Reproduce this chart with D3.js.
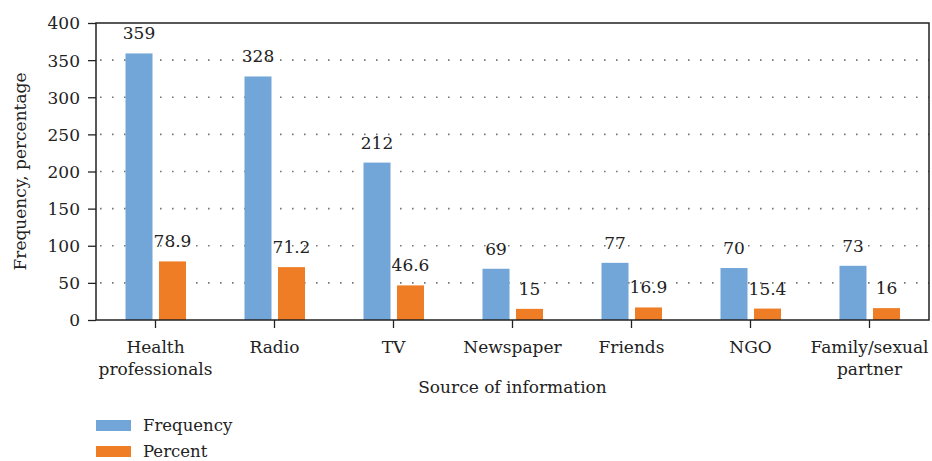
<!DOCTYPE html>
<html><head><meta charset="utf-8">
<script src="https://cdn.jsdelivr.net/npm/d3@7"></script>
<style>
body{margin:0;background:#fff;}
</style></head>
<body><svg id="c" width="932" height="461"></svg>
<script>
const FONT = "DejaVu Serif";
const categories = [["Health","professionals"],["Radio"],["TV"],["Newspaper"],["Friends"],["NGO"],["Family/sexual","partner"]];
const frequency = [359,328,212,69,77,70,73];
const percent = [78.9,71.2,46.6,15,16.9,15.4,16];
const percentLabels = ["78.9","71.2","46.6","15","16.9","15.4","16"];
const yTicks = [0,50,100,150,200,250,300,350,400];
const seriesNames = ["Frequency","Percent"];
const colors = ["#73a6d8","#ee7d25"];

const svg = d3.select("#c");
const L=96, R=929, T=23, B=320;
const x = d3.scaleBand().domain(d3.range(categories.length)).range([L,R]);
const y = d3.scaleLinear().domain([0,400]).range([B,T]);

// gridlines
svg.append("g").selectAll("line").data(yTicks.filter(d=>d>0&&d<400)).join("line")
  .attr("x1",L+4).attr("x2",R).attr("y1",d=>y(d)).attr("y2",d=>y(d))
  .attr("stroke","#777").attr("stroke-width",1.6).attr("stroke-dasharray","1.6,10.4");

// bars
const bw = 27;
svg.append("g").selectAll("rect").data(frequency).join("rect")
  .attr("x",(d,i)=>x(i)+x.bandwidth()/2-3-bw).attr("width",bw)
  .attr("y",d=>y(d)).attr("height",d=>B-y(d)).attr("fill",colors[0]);
svg.append("g").selectAll("rect").data(percent).join("rect")
  .attr("x",(d,i)=>x(i)+x.bandwidth()/2+3.5).attr("width",bw)
  .attr("y",d=>y(d)).attr("height",d=>B-y(d)).attr("fill",colors[1]);

function txt(sel){ return sel.attr("font-family",FONT).attr("fill","#222").attr("font-size",17); }

// value labels
txt(svg.append("g").selectAll("text").data(frequency).join("text")
  .attr("x",(d,i)=>x(i)+x.bandwidth()/2-3-bw/2).attr("y",d=>y(d)-14)
  .attr("text-anchor","middle").text(d=>d));
txt(svg.append("g").selectAll("text").data(percent).join("text")
  .attr("x",(d,i)=>x(i)+x.bandwidth()/2+3.5+bw/2).attr("y",d=>y(d)-14)
  .attr("text-anchor","middle").text((d,i)=>percentLabels[i]));

// y axis
const ya = svg.append("g").attr("transform",`translate(${L},0)`)
  .call(d3.axisLeft(y).tickValues(yTicks).tickSize(8).tickPadding(8));
ya.attr("font-family",FONT);
ya.select(".domain").remove();
ya.selectAll("line").attr("stroke","#222").attr("stroke-width",1.3);
txt(ya.selectAll("text")).attr("dy","0.35em");

// x axis ticks
const xa = svg.append("g").attr("transform",`translate(0,${B})`)
  .call(d3.axisBottom(x).tickSize(8).tickFormat(""));
xa.select(".domain").remove();
xa.selectAll("line").attr("stroke","#222").attr("stroke-width",1.3);
const xl = txt(svg.append("g").selectAll("text").data(categories).join("text")
  .attr("x",(d,i)=>x(i)+x.bandwidth()/2).attr("y",353)
  .attr("text-anchor","middle"));
xl.selectAll("tspan").data(d=>d).join("tspan")
  .attr("x",function(){return this.parentNode.getAttribute("x");})
  .attr("dy",(d,i)=>i?22:0).text(d=>d);

// frame
svg.append("rect").attr("x",L).attr("y",T).attr("width",R-L).attr("height",B-T)
  .attr("fill","none").attr("stroke","#222").attr("stroke-width",1.5);

// axis titles
txt(svg.append("text").attr("x",(L+R)/2).attr("y",393).attr("text-anchor","middle")
  .text("Source of information"));
txt(svg.append("text").attr("transform",`translate(26,${(T+B)/2}) rotate(-90)`)
  .attr("text-anchor","middle").text("Frequency, percentage"));

// legend
const lg = svg.append("g").selectAll("g").data(seriesNames).join("g")
  .attr("transform",(d,i)=>`translate(96,${420+i*26})`);
lg.append("rect").attr("width",35).attr("height",11).attr("fill",(d,i)=>colors[i]);
txt(lg.append("text").attr("x",47).attr("y",11).text(d=>d)).attr("font-size",16.5);
</script></body></html>
